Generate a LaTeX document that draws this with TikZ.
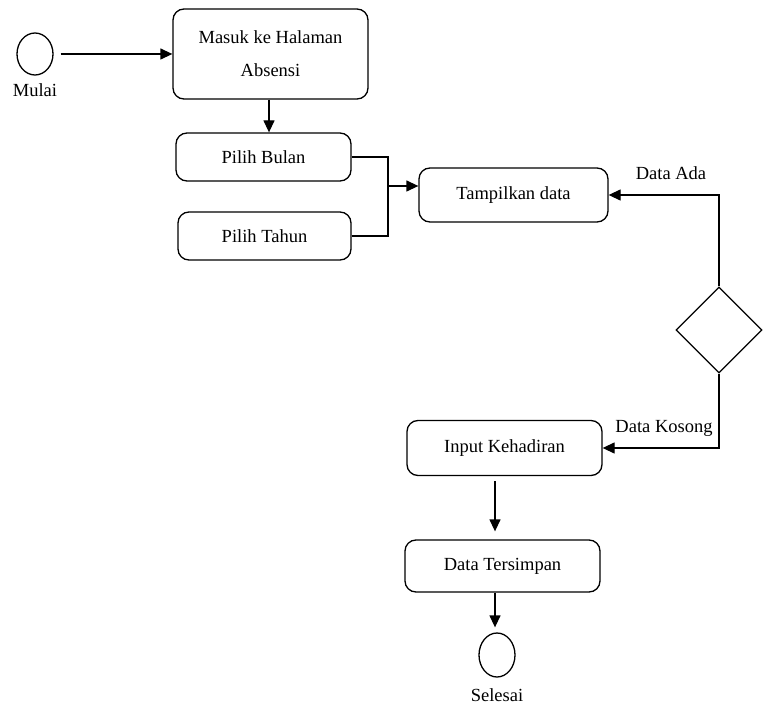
\documentclass[tikz,border=0pt]{standalone}
\usepackage{fontspec}
\setmainfont{Liberation Serif}
\usetikzlibrary{shapes.geometric,arrows.meta}
\begin{document}
\begin{tikzpicture}[x=1pt, y=-1pt, line width=1.3pt, >={Triangle[length=12pt,width=11pt]},
    every node/.style={font=\fontsize{18.5}{33}\selectfont}]
    % Gaya
    \tikzset{
        aktivitas/.style={rectangle, draw, rounded corners=11pt,
                     align=center, inner sep=0pt},
        titik/.style={ellipse, draw, minimum width=36pt, minimum height=42pt,
                     inner sep=0pt},
        keputusan/.style={diamond, draw, minimum size=86pt, inner sep=0pt},
        ket/.style={inner sep=0pt}
    }
    \useasboundingbox (0,0) rectangle (763,711);

    % Mulai
    \node[titik] (mulai) at (35,54) {};
    \node[ket] (lblmulai) at (35,90) {Mulai};

    % Aktivitas
    \node[aktivitas, minimum width=195pt, minimum height=90pt] (masuk) at (270.5,54)
        {Masuk ke Halaman\\Absensi};
    \node[aktivitas, minimum width=175pt, minimum height=48pt] (bulan) at (263.5,157)
        {Pilih Bulan};
    \node[aktivitas, minimum width=173pt, minimum height=48pt] (tahun) at (264.5,236)
        {Pilih Tahun};
    \node[aktivitas, minimum width=189pt, minimum height=54pt] (tampil) at (513.5,195)
        {Tampilkan data};

    % Keputusan
    \node[keputusan] (cek) at (719,330) {};
    \node[ket] (lblada) at (671,173) {Data Ada};
    \node[ket] (lblkosong) at (664,428) {Data Kosong};

    \node[aktivitas, minimum width=195pt, minimum height=55pt] (input) at (504.5,448)
        {Input Kehadiran};
    \node[aktivitas, minimum width=195pt, minimum height=52pt] (simpan) at (502.5,566)
        {Data Tersimpan};

    % Selesai
    \node[titik, minimum height=44pt] (selesai) at (497,655) {};
    \node[ket] (lblselesai) at (497,695) {Selesai};

    % Koneksi
    \coordinate (gabung) at (388,186);
    \draw[->, shorten <=7pt] (mulai) -- (masuk.west |- mulai);
    \draw[->] (masuk.south -| 269,0) -- (bulan.north -| 269,0);
    \draw (bulan.east) -| (gabung);
    \draw (tahun.east) -| (gabung);
    \draw[->] (gabung) -- (tampil.west |- gabung);
    \draw[->] (cek.north) |- (tampil.east);
    \draw[->] (cek.south) |- (input.east);
    \draw[->, shorten <=5pt, shorten >=8pt] (input.south -| 495,0) -- (simpan.north -| 495,0);
    \draw[->, shorten >=5pt] (simpan.south -| 495,0) -- (selesai.north -| 495,0);
\end{tikzpicture}
\end{document}
